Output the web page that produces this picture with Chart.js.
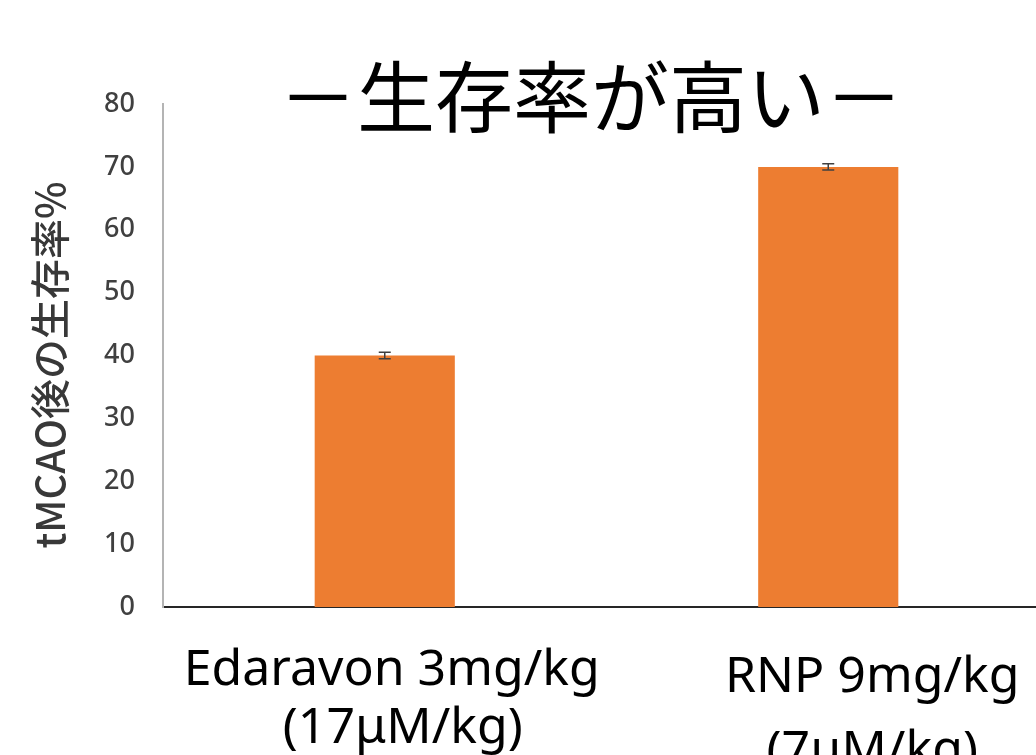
<!DOCTYPE html>
<html>
<head>
<meta charset="utf-8">
<script src="https://cdn.jsdelivr.net/npm/chart.js@4"></script>
<style>
  html, body { margin: 0; padding: 0; background: #fff; overflow: hidden; }
  canvas { display: block; }
</style>
</head>
<body>
<canvas id="survivalChart" width="1050" height="755"></canvas>
<script>
// data
const categories = ['Edaravon', 'RNP'];
const labelLine1 = ['Edaravon 3mg/kg', 'RNP 9mg/kg'];
const labelLine2 = ['(17μM/kg)', '(7μM/kg)'];
const survival = [40, 70];
const survivalErr = [0.5, 0.5];
const yTicks = [0, 10, 20, 30, 40, 50, 60, 70, 80];
const chartTitle = '－生存率が高い－';
const yTitle = 'tMCAO後の生存率%';

(function() {
  // Error bars drawn from the scale
  const errorBars = {
    id: 'errorBars',
    afterDatasetsDraw(chart) {
      const ctx = chart.ctx;
      const y = chart.scales.y;
      const meta = chart.getDatasetMeta(0);
      ctx.save();
      ctx.strokeStyle = '#404040';
      ctx.lineWidth = 1.5;
      meta.data.forEach((bar, i) => {
        const top = y.getPixelForValue(survival[i] + survivalErr[i]);
        const bot = y.getPixelForValue(survival[i] - survivalErr[i]);
        ctx.beginPath();
        ctx.moveTo(bar.x, top); ctx.lineTo(bar.x, bot);
        ctx.moveTo(bar.x - 6, top); ctx.lineTo(bar.x + 6, top);
        ctx.moveTo(bar.x - 6, bot); ctx.lineTo(bar.x + 6, bot);
        ctx.stroke();
      });
      ctx.restore();
    }
  };

  // Title, y title and the two-line category captions
  const captions = {
    id: 'captions',
    afterDraw(chart) {
      const ctx = chart.ctx;
      const x = chart.scales.x;
      ctx.save();
      ctx.fillStyle = '#000';
      ctx.textAlign = 'center';
      ctx.textBaseline = 'middle';
      ctx.font = '78px "Noto Sans CJK JP"';
      ctx.fillText(chartTitle, 591, 97);

      ctx.save();
      ctx.translate(50, 365);
      ctx.rotate(-Math.PI / 2);
      ctx.fillStyle = '#383838';
      ctx.font = '500 40px "Noto Sans CJK JP"';
      ctx.fillText(yTitle, 0, 0);
      ctx.restore();

      // per-label nudges, the captions sit a little off the bar centres
      const shift1 = [7, 44], shift2 = [18, 44];
      const base1 = [685, 692], base2 = [743, 766];
      ctx.textBaseline = 'alphabetic';
      ctx.font = '50px "Noto Sans", "Noto Sans CJK JP"';
      categories.forEach((c, i) => {
        const cx = x.getPixelForValue(i);
        ctx.fillText(labelLine1[i], cx + shift1[i], base1[i]);
        ctx.fillText(labelLine2[i], cx + shift2[i], base2[i]);
      });
      ctx.restore();
    }
  };

  new Chart(document.getElementById('survivalChart').getContext('2d'), {
    type: 'bar',
    data: {
      labels: categories,
      datasets: [{
        label: 'Survival',
        data: survival,
        backgroundColor: '#ED7D31',
        borderWidth: 0,
        categoryPercentage: 1,
        barPercentage: 0.316
      }]
    },
    options: {
      responsive: false,
      animation: false,
      layout: { padding: { top: 104, right: 0, left: 0, bottom: 0 } },
      plugins: { legend: { display: false }, tooltip: { enabled: false }, title: { display: false } },
      scales: {
        x: {
          grid: { display: false },
          border: { display: true, color: '#262626', width: 2 },
          ticks: { display: false },
          afterFit(s) { s.height = 148; }
        },
        y: {
          min: 0,
          max: 80,
          afterBuildTicks(s) { s.ticks = yTicks.map(v => ({ value: v })); },
          grid: { display: false, drawTicks: false },
          border: { display: true, color: '#b4b4b4', width: 2 },
          ticks: { padding: 28, color: '#404040', font: { family: 'Noto Sans', size: 27, weight: '500' } },
          afterFit(s) { s.width = 163; }
        }
      }
    },
    plugins: [errorBars, captions]
  });
})();
</script>
</body>
</html>
